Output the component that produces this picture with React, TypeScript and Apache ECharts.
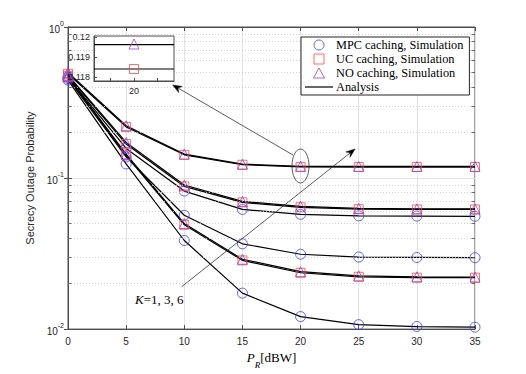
import React, { useEffect, useRef } from 'react';
import * as echarts from 'echarts';

// Transmit power P_R (dBW)
const P = [0, 5, 10, 15, 20, 25, 30, 35];

// Secrecy outage probability
const mpcK1 = [0.445, 0.124, 0.0386, 0.0173, 0.0121, 0.0107, 0.0104, 0.0103];
const ucK1 = [0.465, 0.141, 0.049, 0.0285, 0.0236, 0.0222, 0.0219, 0.0219];
const noK1 = [0.47, 0.144, 0.05, 0.029, 0.024, 0.0225, 0.0222, 0.0221];
const mpcK3 = [0.455, 0.138, 0.0567, 0.0367, 0.0313, 0.03, 0.0298, 0.0297];
const ucK3 = [0.475, 0.168, 0.088, 0.069, 0.064, 0.0622, 0.062, 0.062];
const noK3 = [0.48, 0.172, 0.09, 0.07, 0.065, 0.063, 0.0625, 0.0625];
const mpcK6 = [0.465, 0.157, 0.082, 0.062, 0.0575, 0.0562, 0.056, 0.0558];
const ucK6 = [0.49, 0.218, 0.1425, 0.1225, 0.1184, 0.1183, 0.1183, 0.1183];
const noK6 = [0.5, 0.222, 0.144, 0.1235, 0.11965, 0.1195, 0.1195, 0.1195];

// Inset (zoom around P_R = 20)
const insetX = [18.3, 21.7];
const insetXTicks = [19, 20, 21];
const insetXLabels = [20];
const insetYLabels = [0.118, 0.119, 0.12];
const insetYMinor = [0.1182, 0.1184, 0.1186, 0.1188, 0.1192, 0.1194, 0.1196, 0.1198];

// Main minor grid values
const minorY = [0.02, 0.03, 0.04, 0.05, 0.06, 0.07, 0.08, 0.09, 0.2, 0.3, 0.4, 0.5, 0.6, 0.7, 0.8, 0.9];

const NAME_MPC = 'MPC caching, Simulation';
const NAME_UC = 'UC caching, Simulation';
const NAME_NO = 'NO caching, Simulation';
const NAME_AN = 'Analysis';

const BLUE = '#3a3aff';
const RED = '#ff4a4a';
const PURPLE = '#9c44b8';
const AXIS = '#4d4d4d';
const TXT = '#262626';

const pts = (arr: number[]) => P.map((p, i) => [p, arr[i]]);

function buildOption() {
  const analysisSets = [mpcK1, ucK1, noK1, mpcK3, ucK3, noK3, mpcK6, ucK6, noK6];
  const series: any[] = [];

  analysisSets.forEach((arr, idx) => {
    const s: any = {
      name: NAME_AN,
      type: 'line',
      xAxisIndex: 0,
      yAxisIndex: 0,
      data: pts(arr),
      symbol: 'none',
      itemStyle: { color: '#000' },
      lineStyle: { color: '#000', width: 1.2 },
      z: 3,
      silent: true,
    };
    if (idx === 0) {
      s.markLine = {
        silent: true,
        symbol: 'none',
        label: { show: false },
        animation: false,
        data: [
          ...minorY.map((v) => ({ yAxis: v, lineStyle: { color: '#c8c8c8', type: [1, 2], width: 0.8 } })),
          ...minorY.map((v) => [
            { coord: [0, v], lineStyle: { color: AXIS, type: 'solid', width: 0.8 } },
            { coord: [0.3, v] },
          ]),
          ...minorY.map((v) => [
            { coord: [34.7, v], lineStyle: { color: AXIS, type: 'solid', width: 0.8 } },
            { coord: [35, v] },
          ]),
        ],
      };
    }
    series.push(s);
  });

  const scatter = (name: string, arr: number[], symbol: string, color: string, size: number) => ({
    name,
    type: 'scatter',
    xAxisIndex: 0,
    yAxisIndex: 0,
    data: pts(arr),
    symbol,
    symbolSize: size,
    itemStyle: { color: 'transparent', borderColor: color, borderWidth: 1 },
    z: 4,
  });

  series.push(scatter(NAME_MPC, mpcK1, 'circle', BLUE, 10));
  series.push(scatter(NAME_MPC, mpcK3, 'circle', BLUE, 10));
  series.push(scatter(NAME_MPC, mpcK6, 'circle', BLUE, 10));
  series.push(scatter(NAME_UC, ucK1, 'rect', RED, 9));
  series.push(scatter(NAME_UC, ucK3, 'rect', RED, 9));
  series.push(scatter(NAME_UC, ucK6, 'rect', RED, 9));
  series.push(scatter(NAME_NO, noK1, 'triangle', PURPLE, 10));
  series.push(scatter(NAME_NO, noK3, 'triangle', PURPLE, 10));
  series.push(scatter(NAME_NO, noK6, 'triangle', PURPLE, 10));

  // inset series
  const i20 = P.indexOf(20);
  series.push({
    type: 'line',
    xAxisIndex: 2,
    yAxisIndex: 2,
    data: insetX.map((x) => [x, noK6[i20] - 0.00003]),
    symbol: 'none',
    lineStyle: { color: '#000', width: 1.2 },
    z: 8,
    silent: true,
    markLine: {
      silent: true,
      symbol: 'none',
      label: { show: false },
      animation: false,
      data: [
        ...insetYMinor.map((v) => ({ yAxis: v, lineStyle: { color: '#cfcfcf', type: [1, 2], width: 0.8 } })),
        ...insetXTicks.map((v) => ({ xAxis: v, lineStyle: { color: '#e0e0e0', type: 'solid', width: 1 } })),
      ],
    },
  });
  series.push({
    type: 'line',
    xAxisIndex: 2,
    yAxisIndex: 2,
    data: insetX.map((x) => [x, ucK6[i20]]),
    symbol: 'none',
    lineStyle: { color: '#000', width: 1.2 },
    z: 8,
    silent: true,
  });
  series.push({
    type: 'scatter',
    xAxisIndex: 2,
    yAxisIndex: 2,
    data: [[20, noK6[i20]]],
    symbol: 'triangle',
    symbolSize: 10,
    itemStyle: { color: 'transparent', borderColor: PURPLE, borderWidth: 1 },
    z: 9,
  });
  series.push({
    type: 'scatter',
    xAxisIndex: 2,
    yAxisIndex: 2,
    data: [[20, ucK6[i20]]],
    symbol: 'rect',
    symbolSize: 9,
    itemStyle: { color: 'transparent', borderColor: RED, borderWidth: 1 },
    z: 9,
  });

  const supRich = {
    b: { fontFamily: 'Liberation Sans', fontSize: 10, color: TXT, verticalAlign: 'bottom', lineHeight: 14 },
    s: { fontFamily: 'Liberation Sans', fontSize: 7, color: TXT, verticalAlign: 'top', lineHeight: 8 },
  };

  return {
    animation: false,
    backgroundColor: '#fff',
    grid: [
      { left: 68, top: 27, right: 51, bottom: 41, show: true, borderColor: AXIS, borderWidth: 1, backgroundColor: 'transparent' },
      { left: 94, top: 36, width: 80, height: 45, show: true, borderColor: AXIS, borderWidth: 1, backgroundColor: '#fff', z: 6 },
    ],
    legend: {
      orient: 'vertical',
      left: 301,
      top: 37,
      padding: [2, 6, 2, 4],
      itemGap: 2,
      itemWidth: 28,
      itemHeight: 10,
      symbolKeepAspect: true,
      backgroundColor: '#fff',
      borderColor: TXT,
      borderWidth: 1,
      textStyle: { fontFamily: 'Liberation Serif', fontSize: 12.3, lineHeight: 12, color: '#000', padding: [0, 0, 0, -2] },
      data: [
        { name: NAME_MPC, icon: 'path://M10,0A10,10,0,1,1,9.99,0Z', itemStyle: { color: 'transparent', borderColor: BLUE, borderWidth: 1 } },
        { name: NAME_UC, icon: 'path://M0,0H10V10H0Z', itemStyle: { color: 'transparent', borderColor: RED, borderWidth: 1 } },
        { name: NAME_NO, icon: 'path://M5,0L10,9H0Z', itemStyle: { color: 'transparent', borderColor: PURPLE, borderWidth: 1 } },
        { name: NAME_AN, icon: 'path://M0,0H28V1.2H0Z', itemStyle: { color: '#000', borderWidth: 0 } },
      ],
      z: 10,
    },
    xAxis: [
      {
        type: 'value',
        gridIndex: 0,
        min: 0,
        max: 35,
        interval: 5,
        axisLine: { show: true, lineStyle: { color: AXIS } },
        axisTick: { inside: true, length: 4, lineStyle: { color: AXIS } },
        axisLabel: { fontFamily: 'Liberation Sans', fontSize: 10, color: TXT, margin: 7 },
        splitLine: { show: true, lineStyle: { color: '#e3e3e3' } },
        name: '{i|P}{s|R}{n|[dBW]}',
        nameLocation: 'middle',
        nameGap: 19,
        nameTextStyle: {
          rich: {
            i: { fontFamily: 'Liberation Serif', fontStyle: 'italic', fontSize: 13, color: '#000', verticalAlign: 'top', lineHeight: 14 },
            s: { fontFamily: 'Liberation Serif', fontStyle: 'italic', fontSize: 9, color: '#000', verticalAlign: 'bottom', lineHeight: 18 },
            n: { fontFamily: 'Liberation Serif', fontSize: 13, color: '#000', verticalAlign: 'top', lineHeight: 14 },
          },
        },
      },
      {
        type: 'value',
        gridIndex: 0,
        position: 'top',
        min: 0,
        max: 35,
        interval: 5,
        axisLine: { show: true, lineStyle: { color: AXIS } },
        axisTick: { inside: true, length: 4, lineStyle: { color: AXIS } },
        axisLabel: { show: false },
        splitLine: { show: false },
      },
      {
        type: 'value',
        gridIndex: 1,
        min: insetX[0],
        max: insetX[1],
        z: 7,
        axisLine: { show: true, lineStyle: { color: AXIS } },
        axisTick: { inside: true, length: 3, customValues: insetXTicks, lineStyle: { color: AXIS } },
        axisLabel: { customValues: insetXLabels, fontFamily: 'Liberation Sans', fontSize: 9, color: TXT, margin: 5 },
        splitLine: { show: false },
      },
    ],
    yAxis: [
      {
        type: 'log',
        logBase: 10,
        gridIndex: 0,
        min: 0.01,
        max: 1,
        axisLine: { show: true, lineStyle: { color: AXIS } },
        axisTick: { inside: true, length: 4, lineStyle: { color: AXIS } },
        axisLabel: {
          margin: 4,
          formatter: (v: number) => `{b|10}{s|${Math.round(Math.log10(v))}}`,
          rich: supRich,
        },
        splitLine: { show: true, lineStyle: { color: '#e3e3e3' } },
        name: 'Secrecy Outage Probability',
        nameLocation: 'middle',
        nameGap: 19,
        nameTextStyle: { fontFamily: 'Liberation Sans', fontSize: 11, color: TXT },
      },
      {
        type: 'log',
        logBase: 10,
        gridIndex: 0,
        position: 'right',
        min: 0.01,
        max: 1,
        axisLine: { show: true, lineStyle: { color: AXIS } },
        axisTick: { inside: true, length: 4, lineStyle: { color: AXIS } },
        axisLabel: { show: false },
        splitLine: { show: false },
      },
      {
        type: 'value',
        gridIndex: 1,
        min: 0.1178,
        max: 0.12005,
        z: 7,
        axisLine: { show: true, lineStyle: { color: AXIS } },
        axisTick: { inside: true, length: 3, customValues: insetYLabels, lineStyle: { color: AXIS } },
        axisLabel: { customValues: insetYLabels, fontFamily: 'Liberation Sans', fontSize: 9, color: TXT, margin: 4 },
        splitLine: { show: false },
      },
    ],
    graphic: [
      {
        type: 'ellipse',
        z: 20,
        shape: { cx: 300.5, cy: 166, rx: 8.5, ry: 17 },
        style: { fill: 'none', stroke: '#333', lineWidth: 0.8 },
      },
      {
        type: 'line',
        z: 20,
        shape: { x1: 293, y1: 155, x2: 178, y2: 88 },
        style: { stroke: '#333', lineWidth: 0.8 },
      },
      {
        type: 'polygon',
        z: 20,
        shape: { points: [[172.7, 85], [182.2, 86.5], [177.9, 88], [178.7, 92.5]] },
        style: { fill: '#000', stroke: '#000', lineWidth: 0.5 },
      },
      {
        type: 'line',
        z: 20,
        shape: { x1: 181.7, y1: 286.7, x2: 350, y2: 153 },
        style: { stroke: '#333', lineWidth: 0.8 },
      },
      {
        type: 'polygon',
        z: 20,
        shape: { points: [[355, 149], [345.8, 151.9], [350.3, 152.7], [350.1, 157.3]] },
        style: { fill: '#000', stroke: '#000', lineWidth: 0.5 },
      },
      {
        type: 'text',
        z: 20,
        x: 135,
        y: 299,
        style: {
          text: '{i|K}=1, 3, 6',
          fontFamily: 'Liberation Serif',
          fontSize: 13,
          fill: '#000',
          verticalAlign: 'middle',
          rich: {
            i: { fontFamily: 'Liberation Serif', fontStyle: 'italic', fontSize: 13, fill: '#000' },
          },
        },
      },
    ],
    series,
  };
}

export default function App() {
  const ref = useRef<HTMLDivElement>(null);
  useEffect(() => {
    const chart = echarts.init(ref.current!, null, { renderer: 'svg' });
    chart.setOption(buildOption() as any);
    return () => chart.dispose();
  }, []);
  return (
    <div
      ref={ref}
      style={{ position: 'fixed', left: 0, top: 0, width: 526, height: 374, background: '#fff' }}
    />
  );
}
